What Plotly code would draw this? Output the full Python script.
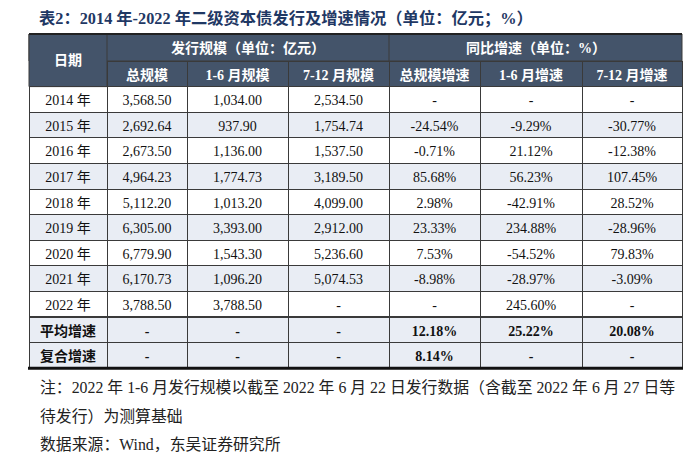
import plotly.graph_objects as go

# ---------------- data ----------------
row_labels = ["2014 年", "2015 年", "2016 年", "2017 年", "2018 年", "2019 年",
              "2020 年", "2021 年", "2022 年", "平均增速", "复合增速"]
total_scale = [3568.50, 2692.64, 2673.50, 4964.23, 5112.20, 6305.00, 6779.90, 6170.73, 3788.50, None, None]
h1_scale = [1034.00, 937.90, 1136.00, 1774.73, 1013.20, 3393.00, 1543.30, 1096.20, 3788.50, None, None]
h2_scale = [2534.50, 1754.74, 1537.50, 3189.50, 4099.00, 2912.00, 5236.60, 5074.53, None, None, None]
total_growth = [None, -24.54, -0.71, 85.68, 2.98, 23.33, 7.53, -8.98, None, 12.18, 8.14]
h1_growth = [None, -9.29, 21.12, 56.23, -42.91, 234.88, -54.52, -28.97, 245.60, 25.22, None]
h2_growth = [None, -30.77, -12.38, 107.45, 28.52, -28.96, 79.83, -3.09, None, 20.08, None]

group_headers = ["发行规模（单位：亿元）", "同比增速（单位：%）"]
sub_headers = ["总规模", "1-6 月规模", "7-12 月规模", "总规模增速", "1-6 月增速", "7-12 月增速"]
first_header = "日期"
title = "表2：2014 年-2022 年二级资本债发行及增速情况（单位：亿元；%）"
notes = ["注：2022 年 1-6 月发行规模以截至 2022 年 6 月 22 日发行数据（含截至 2022 年 6 月 27 日等",
         "待发行）为测算基础",
         "数据来源：Wind，东吴证券研究所"]
summary_rows = ["平均增速", "复合增速"]

# ---------------- layout constants ----------------
W, H = 700, 460
LEFT = 29
COL_W = [78, 80, 101, 101, 91, 102, 100]
TOP = 34          # table top (px)
HDR1_BOTTOM = 61  # first header row bottom
ROW_H = 25.6
HEADER_FILL = "#44546A"
SHADE = "#E9EDF4"
LINE = "#3A3A3A"
TEXT = "#111111"
SERIF = "Times New Roman, Liberation Serif, Noto Sans CJK SC, serif"

def px_x(x):
    return x / W

def px_y(y):
    return 1 - y / H

def fmt_num(v):
    return "-" if v is None else f"{v:,.2f}"

def fmt_pct(v):
    return "-" if v is None else f"{v:.2f}%"

columns = [
    list(row_labels),
    [fmt_num(v) for v in total_scale],
    [fmt_num(v) for v in h1_scale],
    [fmt_num(v) for v in h2_scale],
    [fmt_pct(v) for v in total_growth],
    [fmt_pct(v) for v in h1_growth],
    [fmt_pct(v) for v in h2_growth],
]
n_year = sum(1 for lab in row_labels if lab not in summary_rows)
year_cols = [c[:n_year] for c in columns]
summ_cols = [c[n_year:] for c in columns]

year_fill = [SHADE if i % 2 == 1 else "white" for i in range(n_year)]

right = LEFT + sum(COL_W)
year_bottom = HDR1_BOTTOM + ROW_H * (n_year + 1)
body_bottom = year_bottom + ROW_H * len(summary_rows)

# main table: sub-header row + yearly rows
t1 = go.Table(
    domain=dict(x=[px_x(LEFT), px_x(right)], y=[px_y(year_bottom + 2), px_y(HDR1_BOTTOM)]),
    columnwidth=COL_W,
    header=dict(
        values=[""] + sub_headers,
        fill_color=HEADER_FILL,
        line=dict(color=LINE, width=1),
        font=dict(family=SERIF, size=14, color="white", weight="bold"),
        align="center",
        height=ROW_H,
    ),
    cells=dict(
        values=year_cols,
        fill_color=[year_fill for _ in year_cols],
        line=dict(color=LINE, width=1),
        font=dict(family=SERIF, size=14, color=TEXT),
        align="center",
        height=ROW_H,
    ),
)
# summary table: 平均增速 (as its header row) + 复合增速
t2 = go.Table(
    domain=dict(x=[px_x(LEFT), px_x(right)], y=[px_y(body_bottom + 4), px_y(year_bottom)]),
    columnwidth=COL_W,
    header=dict(
        values=[c[0] for c in summ_cols],
        fill_color=SHADE,
        line=dict(color=LINE, width=1),
        font=dict(family=SERIF, size=14, color=TEXT, weight="bold"),
        align="center",
        height=ROW_H,
    ),
    cells=dict(
        values=[c[1:] for c in summ_cols],
        fill_color=SHADE,
        line=dict(color=LINE, width=1),
        font=dict(family=SERIF, size=14, color=TEXT, weight="bold"),
        align="center",
        height=ROW_H,
    ),
)
fig = go.Figure([t1, t2])

shapes = []
# header row 1 background
shapes.append(dict(type="rect", xref="paper", yref="paper",
                   x0=px_x(LEFT), x1=px_x(right), y0=px_y(HDR1_BOTTOM), y1=px_y(TOP),
                   fillcolor=HEADER_FILL, line=dict(color=LINE, width=1), layer="above"))
# 日期 merged cell
shapes.append(dict(type="rect", xref="paper", yref="paper",
                   x0=px_x(LEFT), x1=px_x(LEFT + COL_W[0]), y0=px_y(HDR1_BOTTOM + ROW_H), y1=px_y(TOP),
                   fillcolor=HEADER_FILL, line=dict(color=LINE, width=1), layer="above"))
# divider between groups in row 1
xg = LEFT + sum(COL_W[:4])
shapes.append(dict(type="line", xref="paper", yref="paper",
                   x0=px_x(xg), x1=px_x(xg), y0=px_y(HDR1_BOTTOM), y1=px_y(TOP),
                   line=dict(color=LINE, width=1), layer="above"))
# thick top and bottom rules
shapes.append(dict(type="line", xref="paper", yref="paper",
                   x0=px_x(LEFT), x1=px_x(right), y0=px_y(TOP), y1=px_y(TOP),
                   line=dict(color="#222222", width=2), layer="above"))
shapes.append(dict(type="line", xref="paper", yref="paper",
                   x0=px_x(LEFT - 1), x1=px_x(right + 1), y0=px_y(body_bottom), y1=px_y(body_bottom),
                   line=dict(color="#111111", width=3), layer="above"))

annotations = []
annotations.append(dict(text=f"<b>{title}</b>", xref="paper", yref="paper",
                        x=px_x(37), y=px_y(18), xanchor="left", yanchor="middle", showarrow=False,
                        font=dict(family=SERIF, size=16.3, color="#1F3864")))
annotations.append(dict(text=f"<b>{first_header}</b>", xref="paper", yref="paper",
                        x=px_x(LEFT + COL_W[0] / 2), y=px_y((TOP + HDR1_BOTTOM + ROW_H) / 2),
                        xanchor="center", yanchor="middle", showarrow=False,
                        font=dict(family=SERIF, size=14, color="white")))
g1c = LEFT + COL_W[0] + sum(COL_W[1:4]) / 2
g2c = xg + sum(COL_W[4:]) / 2
for txt, cx in zip(group_headers, [g1c, g2c]):
    annotations.append(dict(text=f"<b>{txt}</b>", xref="paper", yref="paper",
                            x=px_x(cx), y=px_y((TOP + HDR1_BOTTOM) / 2),
                            xanchor="center", yanchor="middle", showarrow=False,
                            font=dict(family=SERIF, size=14, color="white")))
for txt, yy in zip(notes, [387, 416, 444]):
    annotations.append(dict(text=txt, xref="paper", yref="paper",
                            x=px_x(38), y=px_y(yy), xanchor="left", yanchor="middle", showarrow=False,
                            font=dict(family=SERIF, size=15.85, color="#222222")))

fig.update_layout(width=W, height=H, margin=dict(l=0, r=0, t=0, b=0),
                  paper_bgcolor="white", plot_bgcolor="white",
                  shapes=shapes, annotations=annotations)
fig.write_html("out.html", config={"displayModeBar": False},
               post_script="document.body.style.margin='0';document.body.style.overflow='hidden';")
